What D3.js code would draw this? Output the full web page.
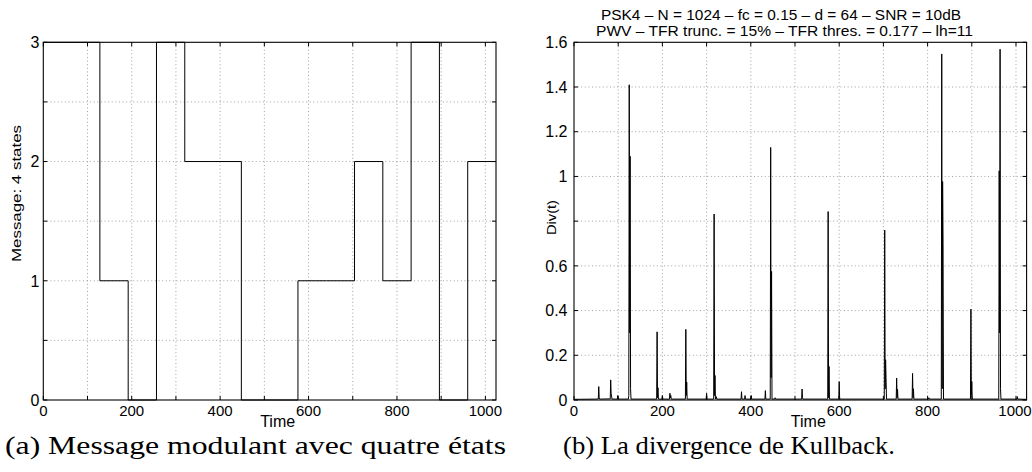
<!DOCTYPE html>
<html>
<head>
<meta charset="utf-8">
<script src="https://cdn.jsdelivr.net/npm/d3@7"></script>
<style>
  html, body { margin: 0; padding: 0; background: #fff; }
  svg { display: block; }
  text { font-family: "Liberation Sans", Arial, Helvetica, sans-serif; fill: #000; }
  .cap { font-family: "Liberation Serif", "Times New Roman", serif; }
</style>
</head>
<body>
<script>
// ---------- DATA ----------
// (a) modulating message, 4 states, one symbol every 64 samples
const msgTime  = [0, 64, 128, 192, 256, 320, 384, 448, 512, 576, 640, 704, 768, 832, 896, 960, 1024];
const msgState = [3, 3, 1, 0, 3, 2, 2, 0, 0, 1, 1, 2, 1, 3, 0, 2, 2];

// (b) Kullback divergence
const klTime = [0, 50, 55, 56, 57, 58, 82, 83, 84, 86, 98, 99, 100,
  123, 124, 125, 126, 127, 128, 129,
  187, 188, 189, 190, 191, 199, 200, 201, 216, 217, 218, 219, 220,
  252, 253, 254, 255, 256, 299, 300, 301,
  316, 317, 318, 319, 320, 322, 323,
  378, 379, 380, 386, 387, 388, 400, 401, 402, 432, 433, 434,
  444, 445, 446, 447, 448, 454, 455, 456, 515, 516, 517, 518,
  574, 575, 576, 577, 578, 599, 600, 601, 602,
  702, 703, 704, 705, 706, 707, 729, 730, 731, 732, 733,
  765, 766, 767, 768, 769, 802, 803, 804,
  831, 832, 833, 834, 835, 836, 897, 898, 899, 900, 901,
  961, 962, 963, 964, 965, 966, 1002, 1003, 1004, 1024];
const klDiv = [0.003, 0.004, 0.005, 0.06, 0.01, 0.004, 0.005, 0.09, 0.03, 0.004, 0.004, 0.02, 0.004,
  0.004, 0.02, 1.41, 0.3, 1.09, 0.05, 0.004,
  0.004, 0.305, 0.01, 0.055, 0.004, 0.004, 0.02, 0.004, 0.004, 0.03, 0.01, 0.02, 0.004,
  0.004, 0.316, 0.02, 0.08, 0.004, 0.004, 0.03, 0.004,
  0.004, 0.832, 0.02, 0.11, 0.004, 0.015, 0.004,
  0.004, 0.037, 0.004, 0.004, 0.02, 0.004, 0.004, 0.02, 0.004, 0.004, 0.042, 0.004,
  0.004, 1.13, 0.1, 0.575, 0.004, 0.004, 0.01, 0.004, 0.004, 0.049, 0.01, 0.004,
  0.004, 0.843, 0.01, 0.15, 0.004, 0.004, 0.082, 0.01, 0.004,
  0.004, 0.76, 0.05, 0.18, 0.1, 0.004, 0.004, 0.098, 0.01, 0.048, 0.004,
  0.004, 0.119, 0.01, 0.05, 0.004, 0.004, 0.01, 0.004,
  0.004, 1.548, 0.05, 0.977, 0.70, 0.004, 0.004, 0.406, 0.02, 0.082, 0.004,
  0.004, 1.025, 0.3, 1.569, 0.05, 0.004, 0.004, 0.015, 0.004, 0.003];

// ticks
const xTickValues   = [0, 100, 200, 300, 400, 500, 600, 700, 800, 900, 1000];
const xTickLabels   = ["0", "200", "400", "600", "800", "1000"];
const yTickValuesA  = [0, 0.5, 1, 1.5, 2, 2.5, 3];
const yTickLabelsA  = ["0", "1", "2", "3"];
const yTickValuesB  = [0, 0.2, 0.4, 0.6, 0.8, 1, 1.2, 1.4, 1.6];
const yTickLabelsB  = ["0", "0.2", "0.4", "0.6", "", "1", "1.2", "1.4", "1.6"];

const titleLines = ["PSK4 \u2013 N = 1024 \u2013 fc = 0.15 \u2013 d = 64 \u2013 SNR = 10dB",
                    "PWV \u2013 TFR trunc. = 15% \u2013 TFR thres. = 0.177 \u2013 lh=11"];
const captionA = "(a) Message modulant avec quatre \u00e9tats";
const captionB = "(b) La divergence de Kullback.";

// ---------- DRAWING ----------
const svg = d3.select("body").append("svg").attr("width", 1032).attr("height", 472);

function panel(opt) {
  const { x, y, yTicks, yLabels, yLabelDx } = opt;
  const g = svg.append("g");
  const [x0, x1] = x.range();
  const [y0, y1] = y.range();
  // grid
  g.selectAll(".gx").data(xTickValues.filter(v => v > 0 && v < x.domain()[1])).enter()
    .append("line").attr("x1", d => x(d)).attr("x2", d => x(d)).attr("y1", y0).attr("y2", y1)
    .attr("stroke", "#8a8a8a").attr("stroke-width", 0.8).attr("stroke-dasharray", "1,2.6");
  g.selectAll(".gy").data(yTicks.filter(v => v > y.domain()[0] && v < y.domain()[1])).enter()
    .append("line").attr("y1", d => y(d)).attr("y2", d => y(d)).attr("x1", x0).attr("x2", x1)
    .attr("stroke", "#8a8a8a").attr("stroke-width", 0.8).attr("stroke-dasharray", "1,2.6");
  // data
  opt.drawData(g);
  // box
  g.append("rect").attr("x", x0).attr("y", y1).attr("width", x1 - x0).attr("height", y0 - y1)
    .attr("fill", "none").attr("stroke", "#000").attr("stroke-width", 1.1);
  // ticks (inward)
  const tl = 4;
  xTickValues.forEach(v => {
    g.append("line").attr("x1", x(v)).attr("x2", x(v)).attr("y1", y0).attr("y2", y0 - tl).attr("stroke", "#000");
    g.append("line").attr("x1", x(v)).attr("x2", x(v)).attr("y1", y1).attr("y2", y1 + tl).attr("stroke", "#000");
  });
  yTicks.forEach(v => {
    g.append("line").attr("y1", y(v)).attr("y2", y(v)).attr("x1", x0).attr("x2", x0 + tl).attr("stroke", "#000");
    g.append("line").attr("y1", y(v)).attr("y2", y(v)).attr("x1", x1).attr("x2", x1 - tl).attr("stroke", "#000");
  });
  // tick labels
  xTickLabels.forEach(l => {
    const cx = Math.min(x(+l), 1031 - 16);
    g.append("text").attr("x", cx).attr("y", 416).attr("text-anchor", "middle")
      .attr("font-size", 15).text(l);
  });
  yLabels.forEach((l, i) => {
    if (!l) return;
    g.append("text").attr("x", x0 - yLabelDx).attr("y", y(+l)).attr("dy", "0.36em")
      .attr("text-anchor", "end").attr("font-size", 16).text(l);
  });
  // x label
  g.append("text").attr("x", (x0 + x1) / 2 + 8).attr("y", 427).attr("text-anchor", "middle")
    .attr("font-size", 16).text("Time");
  return g;
}

// panel (a)
const xA = d3.scaleLinear().domain([0, 1024]).range([43.3, 496]);
const yA = d3.scaleLinear().domain([0, 3]).range([400, 42.3]);
panel({
  x: xA, y: yA, yTicks: yTickValuesA, yLabels: yTickLabelsA, yLabelDx: 4,
  drawData: g => {
    const line = d3.line().x(d => xA(d[0])).y(d => yA(d[1])).curve(d3.curveStepAfter);
    g.append("path").datum(msgTime.map((t, i) => [t, msgState[i]]))
      .attr("d", line).attr("fill", "none").attr("stroke", "#000").attr("stroke-width", 1);
  }
});
svg.append("text").attr("transform", "translate(20.7,193.5) rotate(-90)")
  .attr("text-anchor", "middle").attr("font-size", 12.5)
  .attr("textLength", 137).attr("lengthAdjust", "spacingAndGlyphs").text("Message: 4 states");

// panel (b)
const xB = d3.scaleLinear().domain([0, 1024]).range([574, 1026.6]);
const yB = d3.scaleLinear().domain([0, 1.6]).range([400, 42.3]);
panel({
  x: xB, y: yB, yTicks: yTickValuesB, yLabels: yTickLabelsB, yLabelDx: 6.5,
  drawData: g => {
    const line = d3.line().x(d => xB(d[0])).y(d => yB(d[1]));
    g.append("path").datum(klTime.map((t, i) => [t, klDiv[i]]))
      .attr("d", line).attr("fill", "none").attr("stroke", "#000").attr("stroke-width", 1);
  }
});
svg.append("text").attr("transform", "translate(555.5,217.5) rotate(-90)")
  .attr("text-anchor", "middle").attr("font-size", 13)
  .attr("textLength", 35).attr("lengthAdjust", "spacingAndGlyphs").text("Div(t)");

// title
svg.append("text").attr("x", 601).attr("y", 20).attr("font-size", 14)
  .attr("textLength", 360).attr("lengthAdjust", "spacingAndGlyphs").text(titleLines[0]);
svg.append("text").attr("x", 596).attr("y", 35.5).attr("font-size", 14)
  .attr("textLength", 377).attr("lengthAdjust", "spacingAndGlyphs").text(titleLines[1]);

// captions
svg.append("text").attr("class", "cap").attr("x", 5).attr("y", 454).attr("font-size", 26)
  .attr("textLength", 501).attr("lengthAdjust", "spacingAndGlyphs").text(captionA);
svg.append("text").attr("class", "cap").attr("x", 563).attr("y", 454).attr("font-size", 26)
  .attr("textLength", 332).attr("lengthAdjust", "spacingAndGlyphs").text(captionB);
</script>
</body>
</html>
